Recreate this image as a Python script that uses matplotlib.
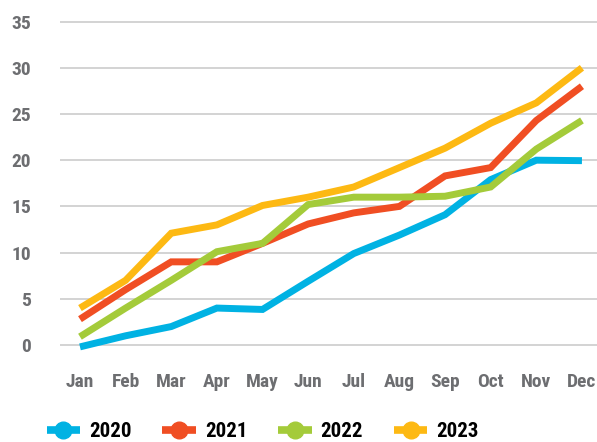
import matplotlib
matplotlib.use("Agg")
import matplotlib.pyplot as plt

# ---------------- DATA ----------------
months = ["Jan", "Feb", "Mar", "Apr", "May", "Jun",
          "Jul", "Aug", "Sep", "Oct", "Nov", "Dec"]
years = ["2020", "2021", "2022", "2023"]
v2020 = [-0.2, 1.0, 2.0, 4.0, 3.85, 6.9, 9.9, 11.9, 14.1, 17.9, 20.0, 19.95]
v2021 = [2.8, 6.0, 9.0, 9.0, 11.0, 13.1, 14.3, 15.0, 18.3, 19.2, 24.3, 28.0]
v2022 = [0.9, 4.0, 7.0, 10.1, 11.0, 15.2, 16.0, 16.0, 16.1, 17.1, 21.2, 24.3]
v2023 = [4.0, 7.0, 12.1, 13.0, 15.1, 16.0, 17.1, 19.2, 21.3, 24.0, 26.2, 30.0]
yticks = [0, 5, 10, 15, 20, 25, 30, 35]
# --------------------------------------

colors = ["#00b2e3", "#f04e23", "#a4cb3a", "#fdb913"]
FONT = "Roboto Condensed"
TICK_GREY = "#6d6e71"

fig = plt.figure(figsize=(5.97, 4.42), dpi=100)
ax = fig.add_axes([0.1005, 0.188, 0.8995, 0.7946])

x = list(range(len(months)))
for vals, lab, c in zip([v2020, v2021, v2022, v2023], years, colors):
    ax.plot(x, vals, color=c, lw=5, label=lab,
            solid_capstyle="butt", solid_joinstyle="miter")

ax.set_xlim(-0.438, 11.33)
ax.set_ylim(-1.5, 36.5)
ax.set_yticks(yticks)
ax.set_xticks(x)
ax.set_xticklabels(months)
ax.grid(axis="y", color="#c8c8c8", lw=1.1)
ax.set_axisbelow(True)
for s in ax.spines.values():
    s.set_visible(False)
ax.tick_params(axis="both", length=0, labelcolor=TICK_GREY, labelsize=14)
ax.tick_params(axis="y", pad=21)
ax.tick_params(axis="x", pad=10)
for t in ax.get_xticklabels() + ax.get_yticklabels():
    t.set_fontfamily(FONT)
    t.set_fontweight("bold")

# legend: line + dot handles, centred a bit left of the figure middle
handles = [plt.Line2D([], [], color=c, lw=5.5, marker="o", markersize=12,
                      solid_capstyle="butt") for c in colors]
fig.legend(handles, years, loc="center", bbox_to_anchor=(0.44, 0.023),
           ncol=4, frameon=False, handlelength=1.6, handletextpad=0.43,
           columnspacing=1.49, borderaxespad=0,
           prop={"family": FONT, "weight": "bold", "size": 15})

fig.savefig("out.png", dpi=100)
plt.close(fig)
